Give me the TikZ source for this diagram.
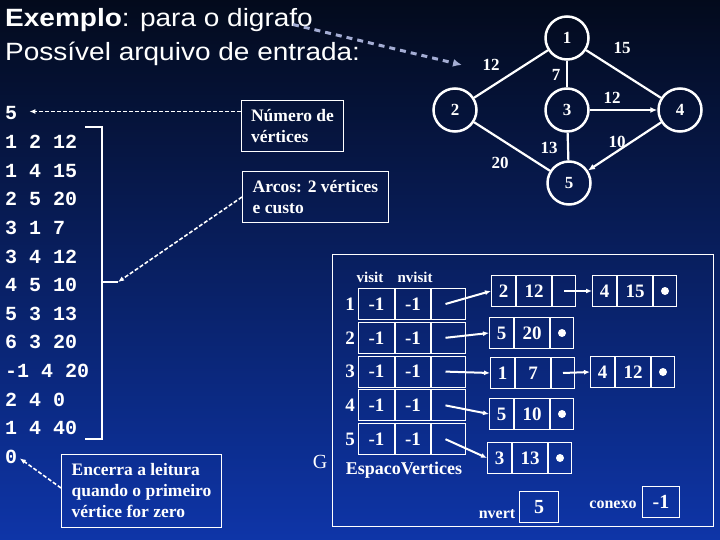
\documentclass[tikz,border=0pt]{standalone}
\usepackage{fontspec}
\setmainfont{Liberation Serif}
\newfontfamily\arialf{Liberation Sans}[FakeStretch=1.12]
\newfontfamily\courf{Liberation Mono}
\usepackage{xcolor}
\usetikzlibrary{arrows, arrows.meta}
\usetikzlibrary{math}
\definecolor{fundoA}{HTML}{030A1C}
\definecolor{fundoB}{HTML}{0B2A88}
\definecolor{fundoC}{HTML}{0E35A8}
\definecolor{setaTit}{HTML}{A4ADD4}

\tikzset{
vert/.style={circle, draw=white, line width=2.5pt, minimum size=43pt, inner sep=0pt, text=white, font=\fontsize{17}{17}\selectfont\bfseries},
peso/.style={text=white, inner sep=0pt, font=\fontsize{17}{17}\selectfont\bfseries},
aresta/.style={white, line width=2.2pt},
titulo/.style={text=white, inner sep=0pt, font=\arialf\fontsize{25}{25}\selectfont},
dado/.style={text=white, inner sep=0pt, anchor=base west, font=\courf\fontsize{20}{20}\selectfont\bfseries},
caixa/.style={draw=white, line width=1pt, text=white, align=left, inner sep=0pt, font=\fontsize{17.5}{21}\selectfont\bfseries},
aviso/.style={white, dashed, dash pattern=on 4pt off 2pt, line width=1.6pt, -{Latex[length=6pt,width=5pt]}},
cel/.style={draw=white, line width=1pt, text=white, minimum height=31pt, inner sep=0pt, font=\fontsize{19}{19}\selectfont\bfseries},
rot/.style={text=white, inner sep=0pt, font=\fontsize{19}{19}\selectfont\bfseries},
ptr/.style={white, line width=2pt, -{Latex[length=6pt,width=5pt]}},
}

\begin{document}
\begin{tikzpicture}[x=1pt, y=-1pt]
\tikzmath{
\dy=28.6;
\hy=33.8;
}
\shade[top color=fundoA, middle color=fundoB, bottom color=fundoC] (0,0) rectangle (720,540);
\useasboundingbox (0,0) rectangle (720,540);

\node[titulo, anchor=base west] (tit) at (5,27) {\textbf{Exemplo}: para o digrafo};
\node[titulo, anchor=base west] (arq) at (5,61) {Possível arquivo de entrada:};
\coordinate (alvo) at (462,65);
\draw[setaTit, dashed, dash pattern=on 6pt off 5pt, line width=3pt, -{Latex[length=9pt,width=8pt]}] ([xshift=-20pt,yshift=-4pt]tit.east) -- (alvo);

% digrafo
\node[vert] (v1) at (567,38) {1};
\node[vert] (v2) at (455,110) {2};
\node[vert] (v3) at (567,110) {3};
\node[vert] (v4) at (680,110) {4};
\node[vert] (v5) at (569,183) {5};
\draw[aresta] (v1) -- (v2);
\draw[aresta] (v1) -- (v3);
\draw[aresta] (v1) -- (v4);
\draw[aresta, -{Latex[length=7pt,width=6pt]}] (v3) -- (v4);
\draw[aresta, -{Latex[length=7pt,width=6pt]}] (v4) -- (v5);
\draw[aresta] (v2) -- (v5);
\draw[aresta] (v3) -- (v5);
\node[peso] (p12) at (491,65) {12};
\node[peso] (p13) at (556,75) {7};
\node[peso] (p14) at (622,48) {15};
\node[peso] (p34) at (612,98) {12};
\node[peso] (p45) at (617,142) {10};
\node[peso] (p35) at (549,148) {13};
\node[peso] (p25) at (500,163) {20};

% arquivo de entrada
\foreach \t [count=\i] in {5,1 2 12,1 4 15,2 5 20,3 1 7,3 4 12,4 5 10,5 3 13,6 3 20,-1 4 20,2 4 0,1 4 40,0}
  \node[dado] (d\i) at (5,{120+(\i-1)*\dy}) {\t};
\draw[white, line width=1.2pt] (85,127) -| (102,439) -- (85,439);
\draw[white, line width=1.2pt] (102,282) -- (118,282) coordinate (ponta);

\node[caixa, anchor=north west, minimum width=102pt, minimum height=51pt] (num) at (241,100) {Número de\\vértices};
\node[caixa, anchor=north west, minimum width=146pt, minimum height=51pt] (arc) at (242,171) {Arcos: 2 vértices\\e custo};
\node[caixa, anchor=north west, minimum width=160pt, minimum height=73pt] (enc) at (61,454) {Encerra a leitura\\quando o primeiro\\vértice for zero};
\draw[aviso, shorten >=12pt] ([yshift=14.5pt]num.west) -- ([yshift=14.5pt]num.west -| d1.east);
\draw[aviso] (arc.west) -- (ponta);
\draw[aviso, shorten >=3pt] ([yshift=3pt]enc.west) -- (d13.east);

\node[text=white, font=\fontsize{20}{20}\selectfont] (g) at (320,462) {G};

% estrutura
\draw[white, line width=1pt] (332,254) rectangle (713,526);
\node[rot, font=\fontsize{15}{15}\selectfont\bfseries] (vis) at (370,277) {visit};
\node[rot, font=\fontsize{15}{15}\selectfont\bfseries] (nvis) at (415,277) {nvisit};
\foreach \i in {1,...,5}{
  \node[cel, minimum width=36pt, anchor=north west] (a\i) at (358,{288+(\i-1)*\hy}) {-1};
  \node[cel, minimum width=35pt, anchor=west] (b\i) at (a\i.east) {-1};
  \node[cel, minimum width=34pt, anchor=west] (c\i) at (b\i.east) {};
  \node[rot] (r\i) at (350,{304+(\i-1)*\hy}) {\i};
}
\node[rot, font=\fontsize{18}{18}\selectfont\bfseries] (esp) at (404,470) {EspacoVertices};

\foreach \nm/\x/\y/\a/\b in {l1/491/275/2/12, l2/489/317/5/20, l3/490/357/1/7, l4/489/398/5/10, l5/487/442/3/13, m1/592/275/4/15, m3/590/356/4/12}{
  \node[cel, minimum width=24pt, anchor=north west] (\nm a) at (\x,\y) {\a};
  \node[cel, minimum width=35pt, anchor=west] (\nm b) at (\nm a.east) {\b};
  \node[cel, minimum width=23pt, anchor=west] (\nm c) at (\nm b.east) {};
}
\foreach \nm in {m1,l2,l4,l5,m3}
  \fill[white] (\nm c) circle (4pt);

\foreach \i in {1,...,5}
  \draw[ptr] ([xshift=-3pt]c\i.center) -- (l\i a.west);
\draw[ptr] (l1c.center) -- (m1a.west);
\draw[ptr] (l3c.center) -- (m3a.west);

\node[rot, font=\fontsize{16}{16}\selectfont\bfseries] (nv) at (497,514) {nvert};
\node[cel, minimum width=39pt, anchor=north west, font=\fontsize{20}{20}\selectfont\bfseries] (nvb) at (519,491) {5};
\node[rot, font=\fontsize{16}{16}\selectfont\bfseries] (cx) at (613,505) {conexo};
\node[cel, minimum width=37pt, anchor=north west, font=\fontsize{20}{20}\selectfont\bfseries] (cxb) at (642,486) {-1};
\end{tikzpicture}
\end{document}
